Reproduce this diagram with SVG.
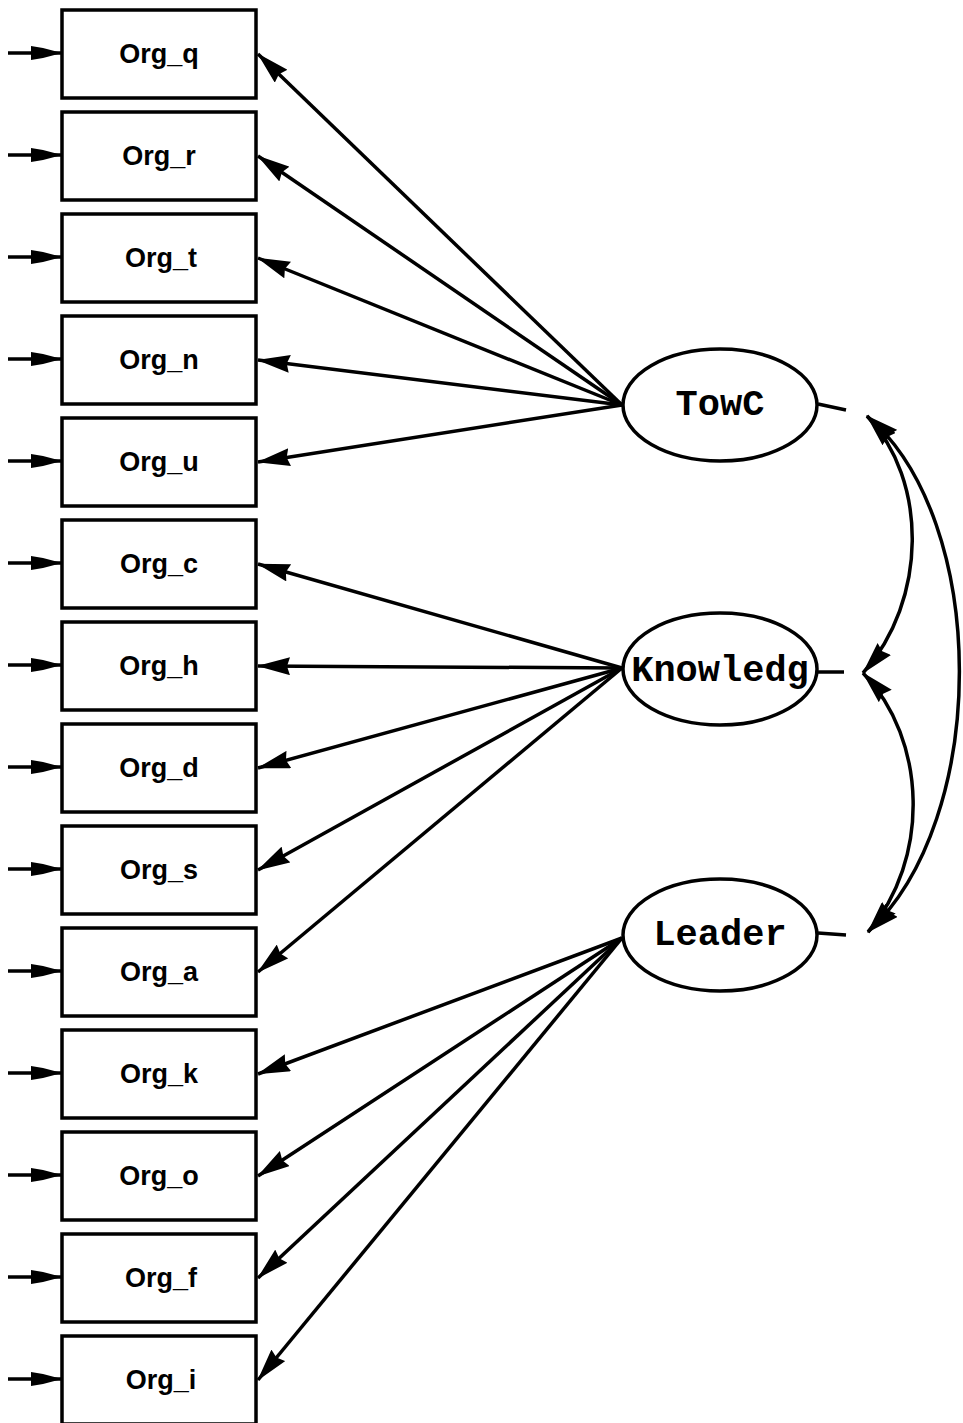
<svg xmlns="http://www.w3.org/2000/svg" width="963" height="1423" viewBox="0 0 963 1423">
<style>
.box{fill:#fff;stroke:#000;stroke-width:3.5}
.lbl{font-family:"Liberation Sans",Arial,sans-serif;font-weight:bold;font-size:27px;text-anchor:middle;fill:#000}
.ell{fill:#fff;stroke:#000;stroke-width:3.5}
.lat{font-family:"Liberation Mono","Courier New",monospace;font-weight:bold;font-size:37px;text-anchor:middle;fill:#000}
.ln{stroke:#000;stroke-width:3.5;fill:none}
.path{stroke:#000;stroke-width:3.5;fill:none;marker-end:url(#ah)}
.err{stroke:#000;stroke-width:3.5;fill:none;marker-end:url(#sh)}
.cov{stroke:#000;stroke-width:3.5;fill:none;marker-start:url(#ah);marker-end:url(#ah)}
</style>
<defs>
<marker id="ah" viewBox="0 0 33 18" refX="32" refY="9" markerWidth="33" markerHeight="18" markerUnits="userSpaceOnUse" orient="auto-start-reverse">
<path d="M0,0 L33,9 L0,18 L3,9 z" fill="#000"/>
</marker>
<marker id="sh" viewBox="0 0 31 14" refX="30" refY="7" markerWidth="31" markerHeight="14" markerUnits="userSpaceOnUse" orient="auto">
<path d="M0,0 L12,2 L31,7 L12,12 L0,14 z" fill="#000"/>
</marker>
</defs>
<rect width="963" height="1423" fill="#fff"/>

<g id="connectors">
<line class="err" x1="8" y1="53" x2="61" y2="53"/>
<line class="err" x1="8" y1="155" x2="61" y2="155"/>
<line class="err" x1="8" y1="257" x2="61" y2="257"/>
<line class="err" x1="8" y1="359" x2="61" y2="359"/>
<line class="err" x1="8" y1="461" x2="61" y2="461"/>
<line class="err" x1="8" y1="563" x2="61" y2="563"/>
<line class="err" x1="8" y1="665" x2="61" y2="665"/>
<line class="err" x1="8" y1="767" x2="61" y2="767"/>
<line class="err" x1="8" y1="869" x2="61" y2="869"/>
<line class="err" x1="8" y1="971" x2="61" y2="971"/>
<line class="err" x1="8" y1="1073" x2="61" y2="1073"/>
<line class="err" x1="8" y1="1175" x2="61" y2="1175"/>
<line class="err" x1="8" y1="1277" x2="61" y2="1277"/>
<line class="err" x1="8" y1="1379" x2="61" y2="1379"/>
<line class="path" x1="622" y1="405" x2="258" y2="54"/>
<line class="path" x1="622" y1="405" x2="258" y2="156"/>
<line class="path" x1="622" y1="405" x2="258" y2="258"/>
<line class="path" x1="622" y1="405" x2="258" y2="360"/>
<line class="path" x1="622" y1="405" x2="258" y2="462"/>
<line class="path" x1="622" y1="668" x2="258" y2="564"/>
<line class="path" x1="622" y1="668" x2="258" y2="666"/>
<line class="path" x1="622" y1="668" x2="258" y2="768"/>
<line class="path" x1="622" y1="668" x2="258" y2="870"/>
<line class="path" x1="622" y1="668" x2="258" y2="972"/>
<line class="path" x1="622" y1="938" x2="258" y2="1074"/>
<line class="path" x1="622" y1="938" x2="258" y2="1176"/>
<line class="path" x1="622" y1="938" x2="258" y2="1278"/>
<line class="path" x1="622" y1="938" x2="258" y2="1380"/>
<line class="ln" x1="818" y1="404" x2="846" y2="410"/>
<line class="ln" x1="818" y1="672" x2="844" y2="672"/>
<line class="ln" x1="818" y1="933" x2="846" y2="935"/>
<path class="cov" d="M867,416 C928,480 928,600 863,673"/>
<path class="cov" d="M863,673 C928,740 930,860 868,932"/>
<path class="cov" d="M867,416 C990,520 990,820 868,932"/>
</g>

<g id="Org_q"><rect class="box" x="62" y="10" width="194" height="88"/><text class="lbl" x="159" y="63">Org_q</text></g>
<g id="Org_r"><rect class="box" x="62" y="112" width="194" height="88"/><text class="lbl" x="159" y="165">Org_r</text></g>
<g id="Org_t"><rect class="box" x="62" y="214" width="194" height="88"/><text class="lbl" x="161" y="267">Org_t</text></g>
<g id="Org_n"><rect class="box" x="62" y="316" width="194" height="88"/><text class="lbl" x="159" y="369">Org_n</text></g>
<g id="Org_u"><rect class="box" x="62" y="418" width="194" height="88"/><text class="lbl" x="159" y="471">Org_u</text></g>
<g id="Org_c"><rect class="box" x="62" y="520" width="194" height="88"/><text class="lbl" x="159" y="573">Org_c</text></g>
<g id="Org_h"><rect class="box" x="62" y="622" width="194" height="88"/><text class="lbl" x="159" y="675">Org_h</text></g>
<g id="Org_d"><rect class="box" x="62" y="724" width="194" height="88"/><text class="lbl" x="159" y="777">Org_d</text></g>
<g id="Org_s"><rect class="box" x="62" y="826" width="194" height="88"/><text class="lbl" x="159" y="879">Org_s</text></g>
<g id="Org_a"><rect class="box" x="62" y="928" width="194" height="88"/><text class="lbl" x="159" y="981">Org_a</text></g>
<g id="Org_k"><rect class="box" x="62" y="1030" width="194" height="88"/><text class="lbl" x="159" y="1083">Org_k</text></g>
<g id="Org_o"><rect class="box" x="62" y="1132" width="194" height="88"/><text class="lbl" x="159" y="1185">Org_o</text></g>
<g id="Org_f"><rect class="box" x="62" y="1234" width="194" height="88"/><text class="lbl" x="161" y="1287">Org_f</text></g>
<g id="Org_i"><rect class="box" x="62" y="1336" width="194" height="88"/><text class="lbl" x="161" y="1389">Org_i</text></g>

<g id="TowC"><ellipse class="ell" cx="720" cy="405" rx="97" ry="56"/><text class="lat" x="720" y="415">TowC</text></g>
<g id="Knowledg"><ellipse class="ell" cx="720" cy="669" rx="97" ry="56"/><text class="lat" x="720" y="681">Knowledg</text></g>
<g id="Leader"><ellipse class="ell" cx="720" cy="935" rx="97" ry="56"/><text class="lat" x="720" y="945">Leader</text></g>
</svg>
